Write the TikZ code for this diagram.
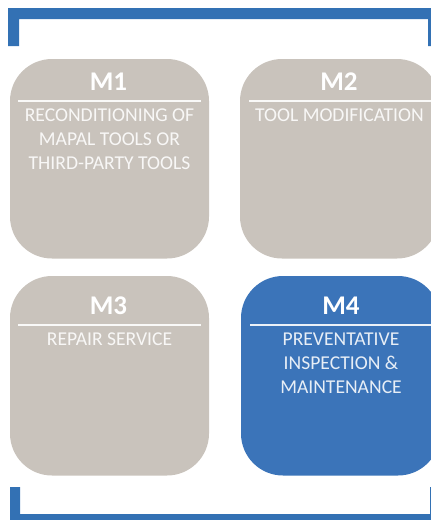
\documentclass[tikz,border=0pt]{standalone}
\usepackage{fontspec}
\setmainfont{Carlito}
\definecolor{boxgrey}{HTML}{C9C3BC}
\definecolor{boxblue}{HTML}{3B74B9}
\definecolor{bracketblue}{HTML}{3371B4}
\tikzset{
  card/.style={anchor=north west,inner sep=0pt,outer sep=0pt,minimum width=199pt,minimum height=199.5pt,rounded corners=42pt,draw=none},
  cardtitle/.style={text=white,font=\fontsize{27}{27}\selectfont\bfseries,inner sep=0pt,anchor=center},
  cardbody/.style={text=white,text opacity=.88,font=\fontsize{19.6}{24}\selectfont,inner sep=0pt,anchor=north,align=center},
  cardrule/.style={draw=white,line width=1.6pt,opacity=.9},
  bracket/.style={fill=bracketblue,draw=none},
}
\begin{document}
\begin{tikzpicture}[x=1pt,y=-1pt]
\useasboundingbox (0,0) rectangle (431,520);
\clip (0,0) rectangle (431,520);
\fill[bracket] (8,8) -- (431,8) -- (431,46) -- (428,46) -- (428,19) -- (19,19) -- (19,46) -- (8,46) -- cycle;
\fill[bracket] (10,487) -- (20,487) -- (20,514) -- (430,514) -- (430,487) -- (431,487) -- (431,520) -- (10,520) -- cycle;
\node[card,fill=boxgrey] (c1) at (10,59) {};
\node[card,fill=boxgrey,minimum width=199pt] (c2) at (240,59) {};
\node[card,fill=boxgrey] (c3) at (10,276) {};
\node[card,fill=boxblue,minimum width=199pt] (c4) at (241,276) {};
\node[cardtitle] (t1) at (108.5,82) {M1};
\node[cardtitle] (t2) at (339,82) {M2};
\node[cardtitle] (t3) at (108.5,306) {M3};
\node[cardtitle] (t4) at (341,306) {M4};
\coordinate (r1a) at (18,101); \coordinate (r1b) at (201,101);
\coordinate (r2a) at (249,101); \coordinate (r2b) at (431,101);
\coordinate (r3a) at (18,325); \coordinate (r3b) at (201,325);
\coordinate (r4a) at (250,325); \coordinate (r4b) at (431,325);
\draw[cardrule] (r1a) -- (r1b);
\draw[cardrule] (r2a) -- (r2b);
\draw[cardrule] (r3a) -- (r3b);
\draw[cardrule] (r4a) -- (r4b);
\node[cardbody] (b1) at (109.5,109) {RECONDITIONING OF\\MAPAL TOOLS OR\\THIRD-PARTY TOOLS};
\node[cardbody] (b2) at (339.5,109) {TOOL MODIFICATION};
\node[cardbody] (b3) at (109.5,333) {REPAIR SERVICE};
\node[cardbody] (b4) at (341,333) {PREVENTATIVE\\INSPECTION \&\\MAINTENANCE};
\end{tikzpicture}
\end{document}
